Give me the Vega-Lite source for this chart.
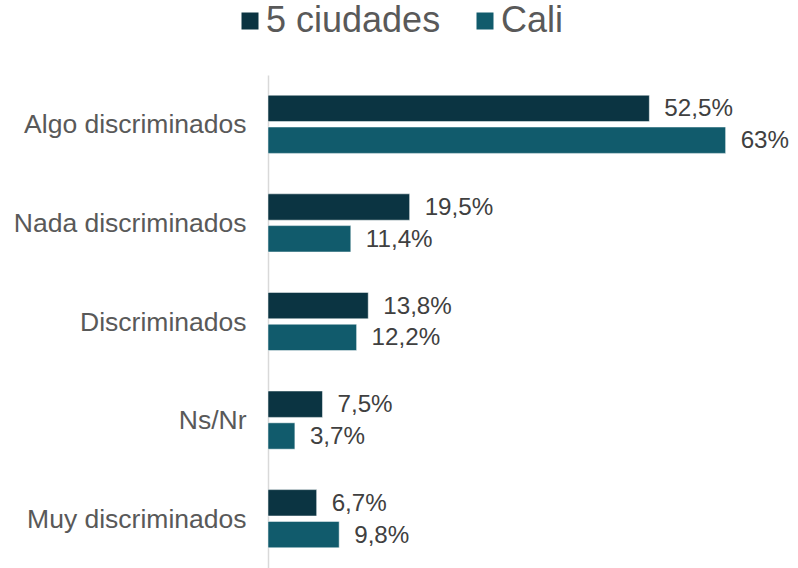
{
  "$schema": "https://vega.github.io/schema/vega-lite/v6.json",
  "autosize": "none",
  "width": 523,
  "height": 493,
  "padding": {"left": 268, "top": 75, "right": 7, "bottom": 0},
  "background": "white",
  "data": {
    "values": [
      {"categoria": "Algo discriminados", "serie": "5 ciudades", "valor": 52.5, "etiqueta": "52,5%"},
      {"categoria": "Algo discriminados", "serie": "Cali", "valor": 63, "etiqueta": "63%"},
      {"categoria": "Nada discriminados", "serie": "5 ciudades", "valor": 19.5, "etiqueta": "19,5%"},
      {"categoria": "Nada discriminados", "serie": "Cali", "valor": 11.4, "etiqueta": "11,4%"},
      {"categoria": "Discriminados", "serie": "5 ciudades", "valor": 13.8, "etiqueta": "13,8%"},
      {"categoria": "Discriminados", "serie": "Cali", "valor": 12.2, "etiqueta": "12,2%"},
      {"categoria": "Ns/Nr", "serie": "5 ciudades", "valor": 7.5, "etiqueta": "7,5%"},
      {"categoria": "Ns/Nr", "serie": "Cali", "valor": 3.7, "etiqueta": "3,7%"},
      {"categoria": "Muy discriminados", "serie": "5 ciudades", "valor": 6.7, "etiqueta": "6,7%"},
      {"categoria": "Muy discriminados", "serie": "Cali", "valor": 9.8, "etiqueta": "9,8%"}
    ]
  },
  "encoding": {
    "y": {
      "field": "categoria",
      "type": "nominal",
      "sort": ["Algo discriminados", "Nada discriminados", "Discriminados", "Ns/Nr", "Muy discriminados"],
      "scale": {"paddingInner": 0.41, "paddingOuter": 0.205},
      "axis": {
        "title": null,
        "ticks": false,
        "domainColor": "#d9d9d9",
        "domainWidth": 1.5,
        "labelFont": "Arial",
        "labelFontSize": 26.5,
        "labelColor": "#595959",
        "labelPadding": 22,
        "labelLimit": 400,
        "labelOffset": 1
      }
    },
    "yOffset": {
      "field": "serie",
      "type": "nominal",
      "sort": ["5 ciudades", "Cali"],
      "scale": {"paddingInner": 0.17}
    },
    "x": {
      "field": "valor",
      "type": "quantitative",
      "scale": {"domain": [0, 72]},
      "axis": null
    }
  },
  "layer": [
    {
      "mark": {"type": "bar", "stroke": "#ffffff", "strokeWidth": 0.5},
      "encoding": {
        "color": {
          "field": "serie",
          "type": "nominal",
          "sort": ["5 ciudades", "Cali"],
          "scale": {"domain": ["5 ciudades", "Cali"], "range": ["#0b3442", "#115b6c"]},
          "legend": {
            "title": null,
            "orient": "none",
            "direction": "horizontal",
            "legendX": -36,
            "legendY": -72,
            "symbolType": "square",
            "symbolSize": 289,
            "symbolStrokeWidth": 0,
            "labelFont": "Arial",
            "labelFontSize": 36,
            "labelColor": "#595959",
            "labelLimit": 400,
            "columnPadding": 26,
            "labelOffset": -2
          }
        }
      }
    },
    {
      "mark": {
        "type": "text",
        "align": "left",
        "baseline": "middle",
        "dx": 15,
        "dy": 1,
        "font": "Arial",
        "fontSize": 24.2,
        "color": "#404040"
      },
      "encoding": {"text": {"field": "etiqueta"}}
    }
  ],
  "config": {"view": {"stroke": null}}
}
